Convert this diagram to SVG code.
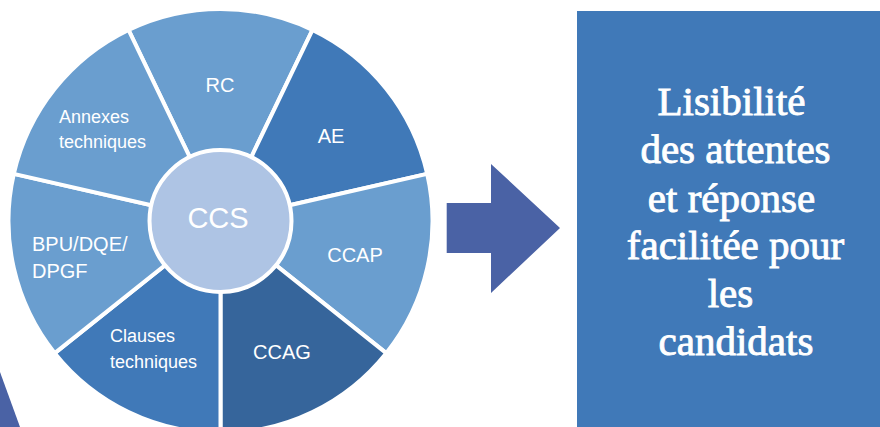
<svg xmlns="http://www.w3.org/2000/svg" width="880" height="427" viewBox="0 0 880 427">
<style>
.seg{stroke:#fff;stroke-width:4;stroke-linejoin:miter}
.light{fill:#6A9ECF}
.mid{fill:#4079B8}
.dark{fill:#36659B}
.lbl{font-family:"Liberation Sans",Arial,sans-serif;fill:#fff;font-size:20px;text-anchor:middle}
.sm{font-size:18px;text-anchor:start}
.box{font-family:"Liberation Serif","Times New Roman",serif;font-size:41px;fill:#fff;stroke:#fff;stroke-width:0.9;text-anchor:middle}
</style>
<rect width="880" height="427" fill="#fff"/>
<g id="wheel">
<g id="seg-rc"><path class="seg light" d="M220.5,221 L128.51,29.99 A212,212 0 0 1 312.49,29.99 Z"/><text class="lbl" x="220" y="92">RC</text></g>
<g id="seg-ae"><path class="seg mid" d="M220.5,221 L312.49,29.99 A212,212 0 0 1 427.18,173.83 Z"/><text class="lbl" x="331" y="143">AE</text></g>
<g id="seg-ccap"><path class="seg light" d="M220.5,221 L427.18,173.83 A212,212 0 0 1 386.24,353.18 Z"/><text class="lbl" x="355" y="262">CCAP</text></g>
<g id="seg-ccag"><path class="seg dark" d="M220.5,221 L386.24,353.18 A212,212 0 0 1 220.5,433 Z"/><text class="lbl" x="282" y="359">CCAG</text></g>
<g id="seg-clauses"><path class="seg mid" d="M220.5,221 L220.5,433 A212,212 0 0 1 54.76,353.18 Z"/><text class="lbl sm" x="110" y="342">Clauses</text><text class="lbl sm" x="110" y="368">techniques</text></g>
<g id="seg-bpu"><path class="seg light" d="M220.5,221 L54.76,353.18 A212,212 0 0 1 13.82,173.83 Z"/><text class="lbl" x="32" y="251" style="text-anchor:start">BPU/DQE/</text><text class="lbl" x="32" y="278" style="text-anchor:start">DPGF</text></g>
<g id="seg-annexes"><path class="seg light" d="M220.5,221 L13.82,173.83 A212,212 0 0 1 128.51,29.99 Z"/><text class="lbl sm" x="59" y="123">Annexes</text><text class="lbl sm" x="59" y="148">techniques</text></g>
<g id="ccs"><circle cx="220.5" cy="221" r="71" fill="#AEC4E4" stroke="#fff" stroke-width="4"/><text class="lbl" x="218" y="228" style="font-size:29px">CCS</text></g>
</g>
<g id="connectors">
<polygon points="446.7,203 491,203 491,164 560,228 491,293 491,253 446.7,253" fill="#4A62A5"/>
<polygon points="0,372 20,427 0,427" fill="#4A62A5"/>
</g>
<g id="result">
<rect x="577" y="11" width="303" height="416" fill="#4079B8"/>
<text class="box" x="731.5" y="115">Lisibilité</text>
<text class="box" x="735.5" y="163">des attentes</text>
<text class="box" x="731.5" y="212">et réponse</text>
<text class="box" x="735.5" y="259">facilitée pour</text>
<text class="box" x="730.5" y="307">les</text>
<text class="box" x="736" y="355">candidats</text>
</g>
</svg>
